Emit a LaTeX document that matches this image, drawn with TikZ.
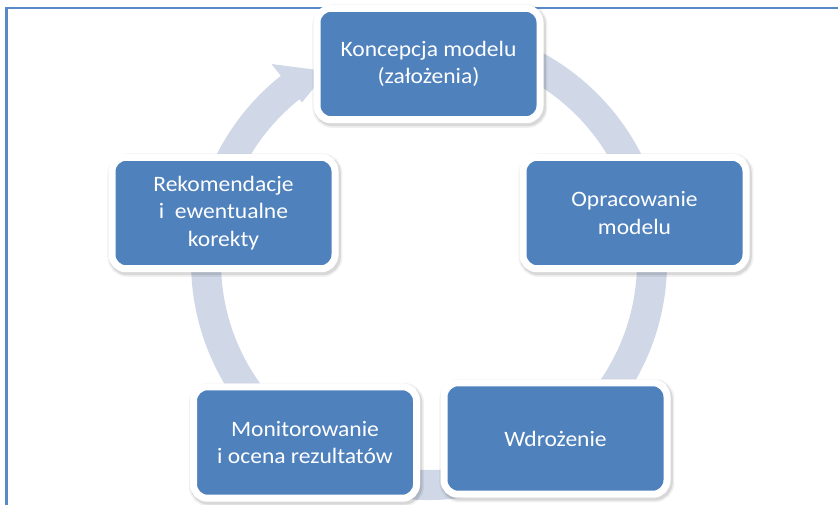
\documentclass[tikz,border=0pt]{standalone}
\usepackage{fontspec}
\setmainfont{Carlito}[FakeStretch=1.07]
\definecolor{boxblue}{RGB}{79,129,189}
\definecolor{ringgray}{RGB}{208,216,232}
\definecolor{frameblue}{RGB}{88,138,201}
\begin{document}
\begin{tikzpicture}[x=0.75pt,y=0.75pt,
  shadowlayer/.style 2 args={preaction={fill=black, draw=black, opacity=#1,
      line width=#2, transform canvas={xshift=1.1pt,yshift=-1.6pt}}},
  stage/.style={rounded corners=10.5pt, fill=boxblue, draw=white,
      line width=5.25pt, minimum width=167.25pt, minimum height=83.6pt,
      inner sep=0pt, align=center, text=white,
      font=\fontsize{16.5pt}{20.6pt}\selectfont,
      shadowlayer={0.06}{9pt}, shadowlayer={0.10}{6.5pt}},
  ring/.style={fill=ringgray}
]
\useasboundingbox (0,0) rectangle (838,-504);

% outer frame (only its top and left sides fall inside the page)
\draw[frameblue, line width=1.9pt] (6.5,-530) -- (6.5,-8) -- (860,-8);

% circular arrow running clockwise behind the stages
\begin{scope}[shift={(429,-262)}]
  \fill[ring] (100:238) arc[start angle=100, end angle=-231.5, radius=238]
     -- (128.5:253) -- (118:216) -- (128.5:204)
     -- (-231.5:208) arc[start angle=-231.5, end angle=100, radius=208]
     -- cycle;
\end{scope}

% stages of the cycle
\node[stage] (koncepcja) at (428.5,-64)  {Koncepcja modelu\\(założenia)};
\node[stage] (opracowanie) at (634.5,-213) {Opracowanie\\modelu};
\node[stage] (wdrozenie) at (555.5,-438.5) {Wdrożenie};
\node[stage] (monitorowanie) at (305,-442.5) {Monitorowanie\\i ocena rezultatów};
\node[stage] (rekomendacje) at (223.5,-213) {Rekomendacje\\i~ ewentualne\\korekty};
\end{tikzpicture}
\end{document}
